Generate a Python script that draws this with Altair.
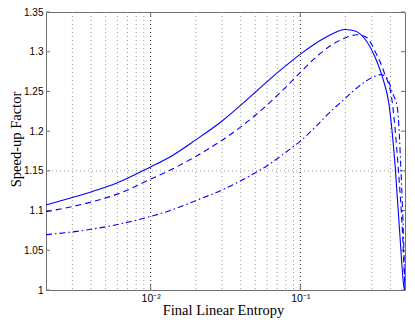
import altair as alt
import pandas as pd

# Solid curve
x_solid = [0.002, 0.003, 0.004, 0.006, 0.01, 0.0131, 0.02, 0.03, 0.04, 0.05, 0.06, 0.08, 0.1,
           0.124, 0.152, 0.2, 0.232, 0.27, 0.314, 0.356, 0.39, 0.43, 0.46, 0.494, 0.5]
y_solid = [1.107, 1.1165, 1.1235, 1.135, 1.155, 1.1662, 1.189, 1.2128, 1.2328, 1.249, 1.2624, 1.2824, 1.297,
           1.3095, 1.3195, 1.328, 1.326, 1.316, 1.294, 1.266, 1.235, 1.155, 1.075, 1.002, 1.0]

# Dashed curve
x_dash = [0.002, 0.004, 0.006, 0.01, 0.0131, 0.02, 0.03, 0.04, 0.05, 0.06, 0.08, 0.1,
          0.124, 0.152, 0.2, 0.239, 0.277, 0.32, 0.363, 0.41, 0.45, 0.48, 0.5]
y_dash = [1.0986, 1.1107, 1.1207, 1.1396, 1.1497, 1.1682, 1.1885, 1.2054, 1.22, 1.233, 1.2555, 1.274,
          1.2912, 1.305, 1.3175, 1.3214, 1.318, 1.298, 1.274, 1.238, 1.155, 1.075, 1.0]

# Dash-dot curve
x_dd = [0.002, 0.004, 0.006, 0.01, 0.0137, 0.02, 0.03, 0.04, 0.05, 0.06, 0.08, 0.1,
        0.124, 0.152, 0.2, 0.25, 0.31, 0.346, 0.381, 0.41, 0.445, 0.47, 0.49, 0.5]
y_dd = [1.0696, 1.0764, 1.0825, 1.0926, 1.1005, 1.1125, 1.126, 1.1375, 1.1475, 1.1565, 1.1735, 1.1875,
        1.204, 1.221, 1.2415, 1.2575, 1.2685, 1.2712, 1.2665, 1.2494, 1.229, 1.15, 1.06, 1.0]

y_ticks = [1.0, 1.05, 1.1, 1.15, 1.2, 1.25, 1.3, 1.35]
x_major = [0.01, 0.1]
x_minor = [0.003, 0.004, 0.005, 0.006, 0.007, 0.008, 0.009,
           0.02, 0.03, 0.04, 0.05, 0.06, 0.07, 0.08, 0.09,
           0.2, 0.3, 0.4]
y_grid = [1.15]

W, H = 359, 278
xscale = alt.Scale(type="log", domain=[0.002, 0.5], nice=False)
yscale = alt.Scale(domain=[1.0, 1.35], nice=False, zero=False)

xaxis = alt.Axis(values=x_major,
                 labelExpr="datum.value < 0.05 ? '10⁻²' : '10⁻¹'",
                 ticks=False, domain=False, grid=False,
                 labelFont="Liberation Sans", labelFontSize=10.5, labelColor="black",
                 labelPadding=3,
                 title="Final Linear Entropy", titleFont="Liberation Serif",
                 titleFontSize=14.5, titleFontWeight="normal", titleColor="black",
                 titleX=177, titleY=24, titleBaseline="alphabetic", titleAlign="center")
yaxis = alt.Axis(values=y_ticks,
                 labelExpr="'' + round(datum.value*100)/100",
                 ticks=False, domain=False, grid=False,
                 labelFont="Liberation Sans", labelFontSize=10, labelColor="black",
                 labelPadding=3,
                 title="Speed-up Factor", titleFont="Liberation Serif",
                 titleFontSize=14.5, titleFontWeight="normal", titleColor="black",
                 titleX=-30, titleY=127, titleAngle=270,
                 titleBaseline="middle", titleAlign="center")

df_minor = pd.DataFrame({"x": x_minor})
df_major = pd.DataFrame({"x": x_major})
df_yg = pd.DataFrame({"y": y_grid})
df_yt = pd.DataFrame({"y": y_ticks})

X = lambda: alt.X("x:Q", scale=xscale, axis=xaxis)
Y = lambda: alt.Y("y:Q", scale=yscale, axis=yaxis)

grid_minor = alt.Chart(df_minor).mark_rule(color="#9a9a9a", strokeWidth=1, strokeDash=[1, 3]).encode(x=X())
grid_major = alt.Chart(df_major).mark_rule(color="#222222", strokeWidth=1, strokeDash=[1, 3]).encode(x=X())
grid_y = alt.Chart(df_yg).mark_rule(color="#9a9a9a", strokeWidth=1, strokeDash=[1, 3]).encode(y=Y())

tick_col = "#707070"
ytick_l = alt.Chart(df_yt).mark_rule(color=tick_col, strokeWidth=1).encode(
    y=Y(), x=alt.value(0), x2=alt.value(4))
ytick_r = alt.Chart(df_yt).mark_rule(color=tick_col, strokeWidth=1).encode(
    y=Y(), x=alt.value(W - 4), x2=alt.value(W))
xtick_b = alt.Chart(df_major).mark_rule(color=tick_col, strokeWidth=1).encode(
    x=X(), y=alt.value(H - 5), y2=alt.value(H))
xtick_t = alt.Chart(df_major).mark_rule(color=tick_col, strokeWidth=1).encode(
    x=X(), y=alt.value(0), y2=alt.value(5))

def curve(xs, ys, dash):
    d = pd.DataFrame({"x": xs, "y": ys})
    kw = dict(color="#0000ff", strokeWidth=1.1, interpolate="monotone", clip=True)
    if dash:
        kw["strokeDash"] = dash
    return alt.Chart(d).mark_line(**kw).encode(x=X(), y=Y())

line_solid = curve(x_solid, y_solid, None)
line_dash = curve(x_dash, y_dash, [6, 4])
line_dd = curve(x_dd, y_dd, [6, 3, 1.5, 3])

chart = alt.layer(grid_minor, grid_major, grid_y, ytick_l, ytick_r, xtick_b, xtick_t,
                  line_dd, line_dash, line_solid).properties(
    width=W, height=H,
    autosize=alt.AutoSizeParams(type="none"),
    padding={"left": 38, "top": 4, "right": 2, "bottom": 30},
    background="white",
).configure_view(stroke="#707070", strokeWidth=1)

chart.save("out.html", embed_options={"renderer": "svg", "actions": False})
